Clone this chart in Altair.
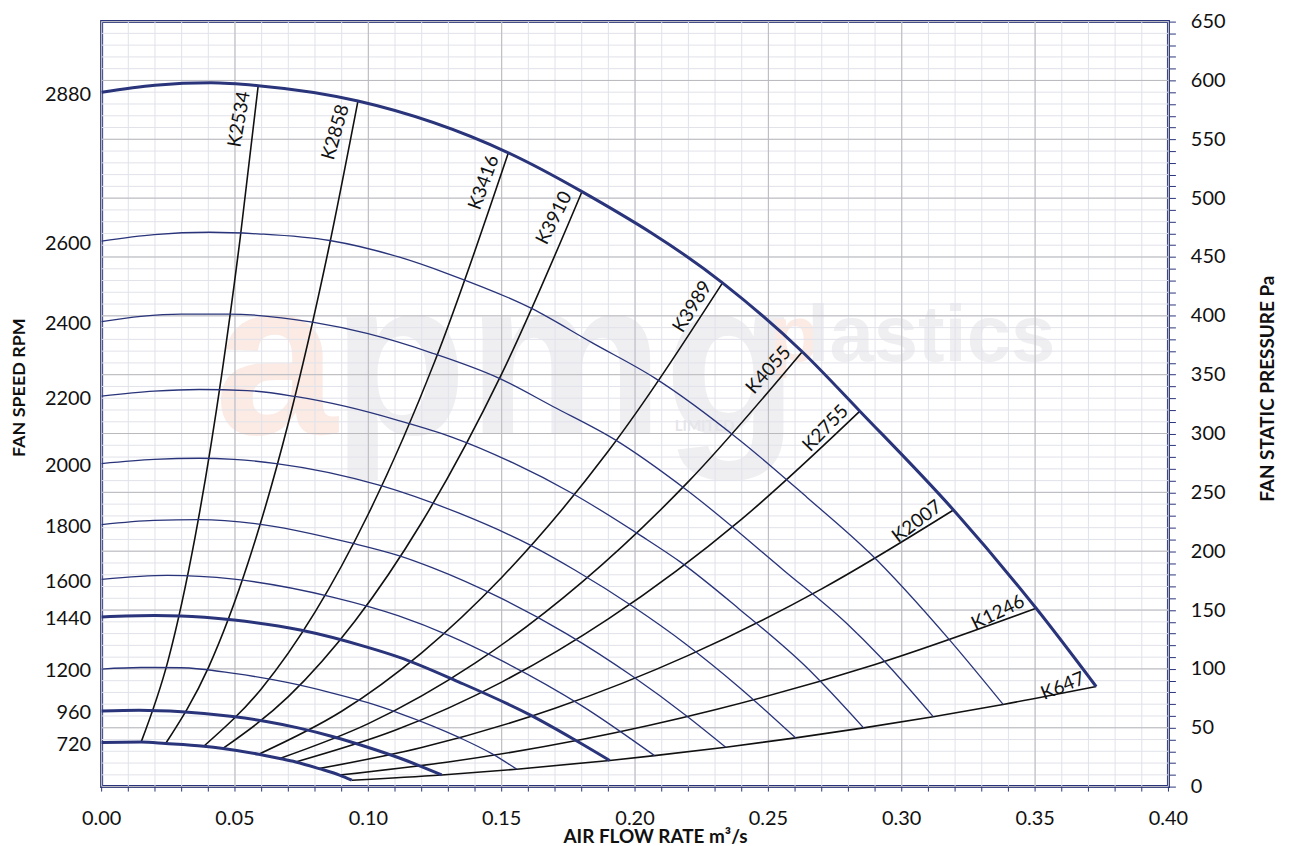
import altair as alt
import pandas as pd

# ---------------- data ----------------
# Fan curves: air flow rate (m3/s) and fan static pressure (Pa) for each speed (RPM)
rpm_list = [720, 960, 1200, 1440, 1600, 1800, 2000, 2200, 2400, 2600, 2880]
thick_rpm = [720, 960, 1440, 2880]

q_720 = [0, 0.0148, 0.024, 0.0383, 0.0455, 0.0589, 0.0668, 0.0728, 0.0815, 0.0892, 0.0938]
p_720 = [37.5, 37.8, 36.6, 34.3, 32.4, 27.5, 23.9, 20.9, 15.3, 9.8, 5.4]
q_960 = [0, 0.014, 0.03, 0.0492, 0.0617, 0.0741, 0.0865, 0.0989, 0.1114, 0.1275]
p_960 = [64.3, 64.9, 63.6, 59.5, 55.3, 49.7, 42.6, 34.1, 24.5, 9.9]
q_1200 = [0, 0.0147, 0.0297, 0.0496, 0.0695, 0.0865, 0.0995, 0.1114, 0.1338, 0.1463, 0.1556]
p_1200 = [99.9, 101.2, 101.0, 96.2, 88.5, 79.5, 71.5, 62.5, 42.0, 28.0, 14.8]
q_1440 = [0, 0.02, 0.0297, 0.0496, 0.0745, 0.0995, 0.1114, 0.1338, 0.161, 0.1772, 0.1905]
p_1440 = [144.1, 145.3, 145.0, 141.5, 133.0, 118.5, 110.0, 89.0, 60.5, 40.0, 22.2]
q_1600 = [0, 0.0247, 0.0496, 0.0865, 0.1114, 0.1301, 0.1487, 0.1798, 0.2073]
p_1600 = [176.0, 179.4, 176.2, 161.0, 145.0, 128.5, 108.5, 69.0, 26.3]
q_1800 = [0, 0.0197, 0.0366, 0.0576, 0.0939, 0.1114, 0.1239, 0.1493, 0.1742, 0.1992, 0.2191, 0.234]
p_1800 = [222.6, 226.2, 226.8, 223.5, 206.8, 196.2, 186.0, 160.5, 130.0, 93.5, 60.5, 33.5]
q_2000 = [0, 0.0197, 0.0366, 0.0496, 0.0655, 0.1051, 0.1338, 0.16, 0.1774, 0.1992, 0.2191, 0.239, 0.2602]
p_2000 = [274.5, 278.0, 279.0, 278.0, 274.5, 255.5, 232.5, 206.0, 184.0, 153.0, 121.0, 84.5, 41.4]
q_2200 = [0, 0.0197, 0.0366, 0.0546, 0.0725, 0.0915, 0.1114, 0.1313, 0.1543, 0.1762, 0.2023, 0.2172, 0.239, 0.264, 0.2857]
p_2200 = [331.8, 336.0, 337.4, 336.5, 331.5, 323.0, 311.0, 297.0, 275.0, 249.5, 213.0, 190.5, 151.0, 102.0, 49.9]
q_2400 = [0, 0.0147, 0.0297, 0.0476, 0.079, 0.0995, 0.1239, 0.1487, 0.1692, 0.1923, 0.2197, 0.2558, 0.2794, 0.2919, 0.3118]
p_2400 = [395.0, 399.5, 401.5, 401.5, 394.6, 385.0, 368.4, 347.3, 323.0, 295.0, 251.4, 183.7, 138.5, 110.3, 59.4]
q_2600 = [0, 0.0197, 0.0406, 0.0595, 0.0855, 0.1114, 0.1301, 0.161, 0.184, 0.2073, 0.2396, 0.2645, 0.2882, 0.318, 0.338]
p_2600 = [463.5, 469.0, 471.0, 469.5, 464.0, 450.0, 435.5, 406.5, 377.0, 347.3, 293.7, 245.7, 198.0, 124.4, 69.8]
q_2880 = [0, 0.02, 0.041, 0.0587, 0.0961, 0.1525, 0.1801, 0.2328, 0.2627, 0.2843, 0.3194, 0.3504, 0.3729]
p_2880 = [590.0, 596.0, 598.0, 595.5, 582.5, 538.5, 505.5, 428.0, 369.5, 319.0, 235.0, 151.5, 85.0]

fan_q = {720: q_720, 960: q_960, 1200: q_1200, 1440: q_1440, 1600: q_1600, 1800: q_1800,
         2000: q_2000, 2200: q_2200, 2400: q_2400, 2600: q_2600, 2880: q_2880}
fan_p = {720: p_720, 960: p_960, 1200: p_1200, 1440: p_1440, 1600: p_1600, 1800: p_1800,
         2000: p_2000, 2200: p_2200, 2400: p_2400, 2600: p_2600, 2880: p_2880}

# System curves
k_names = ["K2534", "K2858", "K3416", "K3910", "K3989", "K4055", "K2755", "K2007", "K1246", "K647"]
q_k2534 = [0.0148, 0.025, 0.035, 0.045, 0.052, 0.0587]
p_k2534 = [37.8, 107.9, 211.6, 349.7, 467.0, 595.5]
q_k2858 = [0.024, 0.04, 0.055, 0.07, 0.085, 0.0961]
p_k2858 = [36.6, 100.9, 190.8, 309.0, 455.7, 582.5]
q_k3416 = [0.0383, 0.06, 0.08, 0.1, 0.125, 0.1525]
p_k3416 = [34.3, 83.4, 148.2, 231.6, 361.8, 538.5]
q_k3910 = [0.0455, 0.07, 0.095, 0.12, 0.15, 0.1801]
p_k3910 = [32.4, 76.4, 140.7, 224.4, 350.7, 505.5]
q_k3989 = [0.0589, 0.09, 0.12, 0.15, 0.19, 0.2328]
p_k3989 = [27.5, 64.0, 113.7, 177.7, 285.1, 428.0]
q_k4055 = [0.0668, 0.1, 0.14, 0.18, 0.22, 0.2627]
p_k4055 = [23.9, 53.5, 104.9, 173.5, 259.1, 369.5]
q_k2755 = [0.0728, 0.11, 0.15, 0.19, 0.24, 0.2843]
p_k2755 = [20.9, 47.8, 88.8, 142.5, 227.3, 319.0]
q_k2007 = [0.0815, 0.12, 0.17, 0.22, 0.27, 0.3194]
p_k2007 = [15.3, 33.2, 66.6, 111.5, 168.0, 235.0]
q_k1246 = [0.0892, 0.13, 0.18, 0.23, 0.29, 0.3504]
p_k1246 = [9.8, 20.9, 40.0, 65.3, 103.8, 151.5]
q_k647 = [0.0938, 0.1275, 0.1556, 0.1905, 0.2073, 0.234, 0.2602, 0.2857, 0.3118, 0.338, 0.3729]
p_k647 = [5.4, 9.9, 14.8, 22.2, 26.3, 33.5, 41.4, 49.9, 59.4, 69.8, 85.0]
k_label_angle = [280, 286, 290, 297, 302, 312, 314, 323, 334, 338]

sys_q = [q_k2534, q_k2858, q_k3416, q_k3910, q_k3989, q_k4055, q_k2755, q_k2007, q_k1246, q_k647]
sys_p = [p_k2534, p_k2858, p_k3416, p_k3910, p_k3989, p_k4055, p_k2755, p_k2007, p_k1246, p_k647]

# Axis ticks / grid / labels
x_ticks = [round(i * 0.01, 2) for i in range(41)]
x_major = [round(i * 0.05, 2) for i in range(9)]
x_labels = ["0.00", "0.05", "0.10", "0.15", "0.20", "0.25", "0.30", "0.35", "0.40"]
y_ticks = list(range(0, 651, 10))
y_major = list(range(0, 651, 50))
x_title = "AIR FLOW RATE m³/s"

# Watermark (logo) text
wm_big_a = ["a"]
wm_big_a_q = [0.0423]
wm_big_rest = ["pmg"]
wm_big_rest_q = [0.0864]
wm_big_p = 299.5
wm_small_p = ["p"]
wm_small_p_q = [0.2505]
wm_small_rest = ["lastics"]
wm_small_rest_q = [0.2646]
wm_small_pp = 361.3
wm_ltd = ["LIMITED"]
wm_ltd_q = [0.2261]
wm_ltd_p = 306.3

# ---------------- build tables ----------------
fan_rows = []
for r in rpm_list:
    for q, p in zip(fan_q[r], fan_p[r]):
        fan_rows.append({"rpm": str(r), "q": q, "p": p, "thick": r in thick_rpm})
fan_df = pd.DataFrame(fan_rows)

sys_rows = []
lab_rows = []
for name, qs, ps, ang in zip(k_names, sys_q, sys_p, k_label_angle):
    for q, p in zip(qs, ps):
        sys_rows.append({"k": name, "q": q, "p": p})
    lab_rows.append({"k": name, "q": qs[-1], "p": ps[-1], "ang": ang})
sys_df = pd.DataFrame(sys_rows)
lab_df = pd.DataFrame(lab_rows)

p0_vals = [fan_p[r][0] for r in rpm_list]
rpm_df = pd.DataFrame({"rpm": [str(r) for r in rpm_list], "p0": p0_vals})

# ---------------- styling ----------------
NAVY = "#29347a"
FONT = "Lato"
W, H = 1071, 768
xsc = alt.Scale(domain=[0, 0.4], nice=False, zero=False)
ysc = alt.Scale(domain=[0, 650], nice=False, zero=False)

left_expr = "''"
for r, v in zip(rpm_list, p0_vals):
    left_expr = f"datum.value == {v} ? '{r}' : " + left_expr

right_axis = alt.Axis(
    orient="right", values=y_ticks, domain=False, grid=False,
    labelExpr="datum.value % 50 == 0 ? format(datum.value, 'd') : ''",
    tickColor=NAVY, tickSize=7, tickWidth=1, labelFlush=False, labelOverlap=False,
    labelFont=FONT, labelFontSize=20, labelColor="#111111", labelPadding=15,
    title="FAN STATIC PRESSURE Pa", titleFont=FONT, titleFontSize=19, titleFontWeight="bold",
    titleColor="#111111", titleAngle=270, titleX=99, titleY=368, titleAlign="center",
    titleBaseline="middle",
)
left_axis = alt.Axis(
    orient="left", values=p0_vals, domain=False, grid=False, ticks=False, tickSize=0,
    labelExpr=left_expr, labelFlush=False, labelOverlap=False, labelOffset=2,
    labelFont=FONT, labelFontSize=20, labelColor="#111111", labelPadding=11,
    title="FAN SPEED RPM", titleFont=FONT, titleFontSize=18, titleFontWeight="bold",
    titleColor="#111111", titleAngle=270, titleX=-82, titleY=367, titleAlign="center",
    titleBaseline="middle",
)


def X(field):
    return alt.X(field, type="quantitative", scale=xsc, axis=None)


def Y(field):
    return alt.Y(field, type="quantitative", scale=ysc, axis=None)


# watermark
wm1 = alt.Chart(pd.DataFrame({"t": wm_big_a, "q": wm_big_a_q, "p": [wm_big_p]})).mark_text(
    font="Liberation Sans", fontWeight="bold", fontSize=222, align="left", baseline="alphabetic",
    color="#fbebe4").encode(x=X("q"), y=Y("p"), text="t:N")
wm2 = alt.Chart(pd.DataFrame({"t": wm_big_rest, "q": wm_big_rest_q, "p": [wm_big_p]})).mark_text(
    font="Liberation Sans", fontWeight="bold", fontSize=222, align="left", baseline="alphabetic",
    color="#efeff2").encode(x=X("q"), y=Y("p"), text="t:N")
wm3 = alt.Chart(pd.DataFrame({"t": wm_small_p, "q": wm_small_p_q, "p": [wm_small_pp]})).mark_text(
    font="Liberation Sans", fontWeight="bold", fontSize=80, align="left",
    baseline="alphabetic", color="#fbebe4").encode(x=X("q"), y=Y("p"), text="t:N")
wm4 = alt.Chart(pd.DataFrame({"t": wm_small_rest, "q": wm_small_rest_q, "p": [wm_small_pp]})).mark_text(
    font="Liberation Sans", fontWeight="bold", fontSize=80, align="left",
    baseline="alphabetic", color="#efeff2").encode(x=X("q"), y=Y("p"), text="t:N")
wm5 = alt.Chart(pd.DataFrame({"t": wm_ltd, "q": wm_ltd_q, "p": [wm_ltd_p]})).mark_text(
    font=FONT, fontWeight="bold", fontSize=15, align="center", baseline="middle",
    color="#e6e6ea").encode(x=X("q"), y=Y("p"), text="t:N")

# grid
gx_minor = alt.Chart(pd.DataFrame({"v": x_ticks})).mark_rule(color="#e1e2ea", strokeWidth=1).encode(x=X("v"))
gy_minor = alt.Chart(pd.DataFrame({"v": y_ticks})).mark_rule(color="#e1e2ea", strokeWidth=1).encode(y=Y("v"))
gx_major = alt.Chart(pd.DataFrame({"v": x_major})).mark_rule(color="#b8b8bc", strokeWidth=1).encode(x=X("v"))
gy_major = alt.Chart(pd.DataFrame({"v": y_major})).mark_rule(color="#b8b8bc", strokeWidth=1).encode(y=Y("v"))

# flow axis: ticks, tick labels and title, hanging below the plot's bottom edge
x_tick_marks = alt.Chart(pd.DataFrame({"v": x_ticks})).mark_rule(
    color=NAVY, strokeWidth=1).encode(x=X("v"), y=alt.value(H), y2=alt.value(H + 5))
x_tick_labels = alt.Chart(pd.DataFrame({"v": x_major, "lab": x_labels})).mark_text(
    font=FONT, fontSize=20, color="#111111", align="center", baseline="middle").encode(
    x=X("v"), y=alt.value(H + 33), text="lab:N")
x_title_mark = alt.Chart(pd.DataFrame({"t": [x_title]})).mark_text(
    font=FONT, fontSize=19, fontWeight="bold", color="#111111", align="center",
    baseline="alphabetic").encode(x=alt.value(556), y=alt.value(H + 57), text="t:N")

# system curves
sys_lines = alt.Chart(sys_df).mark_line(color="#111111", strokeWidth=1.6, interpolate="monotone").encode(
    x=X("q"), y=Y("p"), detail="k:N")

# fan curves
thin = alt.Chart(fan_df[~fan_df["thick"]]).mark_line(
    color=NAVY, strokeWidth=1.3, interpolate="monotone").encode(
    x=X("q"),
    y=alt.Y("p:Q", scale=ysc, axis=right_axis),
    detail="rpm:N")
thick = alt.Chart(fan_df[fan_df["thick"]]).mark_line(
    color=NAVY, strokeWidth=3, interpolate="monotone").encode(
    x=X("q"), y=Y("p"), detail="rpm:N")

# system curve labels
labels = alt.Chart(lab_df).mark_text(
    align="right", baseline="bottom", dx=-8, dy=-3, font=FONT, fontSize=19, color="#111111").encode(
    x=X("q"), y=Y("p"), text="k:N", angle=alt.Angle("ang:Q", scale=None))

# left RPM axis carrier
rpm_axis = alt.Chart(rpm_df).mark_point(opacity=0).encode(
    y=alt.Y("p0:Q", scale=ysc, axis=left_axis))

chart = alt.layer(
    wm1, wm2, wm3, wm4, wm5,
    gx_minor, gy_minor, gx_major, gy_major,
    x_tick_marks, x_tick_labels, x_title_mark,
    sys_lines, thin, thick, labels, rpm_axis,
).resolve_axis(y="independent").properties(
    width=W, height=H,
    autosize=alt.AutoSizeParams(type="pad"),
    padding={"left": 3, "top": 2, "right": 4, "bottom": 2},
    background="white",
).configure_view(stroke=NAVY, strokeWidth=3)

chart.save("out.html", embed_options={"renderer": "svg", "actions": False})
